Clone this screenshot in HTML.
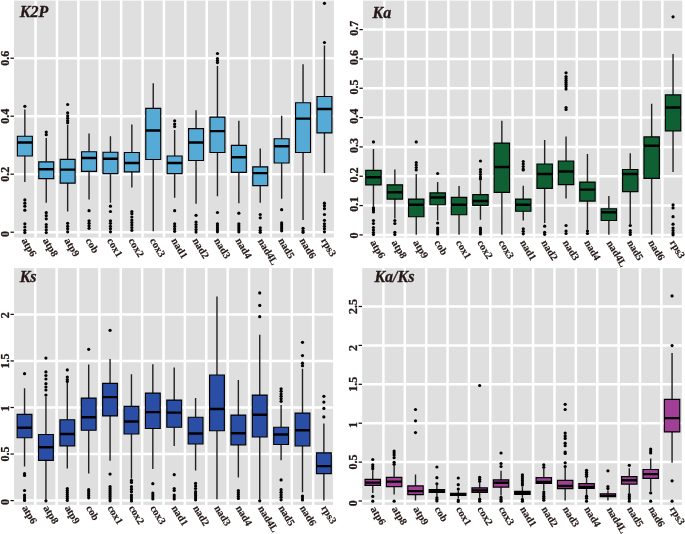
<!DOCTYPE html>
<html><head><meta charset="utf-8"><title>Boxplots</title>
<style>
html,body{margin:0;padding:0;background:#fff;}
body{width:685px;height:534px;overflow:hidden;font-family:"Liberation Serif",serif;}
svg{display:block;will-change:transform;}
text{font-family:"Liberation Serif",serif;font-weight:bold;fill:#231815;stroke:#231815;stroke-width:0.3px;}
.yl{font-size:12px;}
.xl{font-size:10.4px;stroke-width:0.15px;}
.tt{font-size:16px;font-style:italic;}
</style></head><body>
<svg width="685" height="534" viewBox="0 0 685 534">
<rect width="685" height="534" fill="#fff"/>
<g>
<rect x="14.10" y="0.60" width="319.80" height="237.00" fill="#dfdfdf"/>
<path d="M35.55 0.60V237.60M56.95 0.60V237.60M78.35 0.60V237.60M99.75 0.60V237.60M121.15 0.60V237.60M142.55 0.60V237.60M163.95 0.60V237.60M185.35 0.60V237.60M206.75 0.60V237.60M228.15 0.60V237.60M249.55 0.60V237.60M270.95 0.60V237.60M292.35 0.60V237.60M313.75 0.60V237.60M14.10 232.20H333.90M14.10 174.20H333.90M14.10 116.20H333.90M14.10 58.20H333.90" stroke="#fff" stroke-width="2.50" fill="none"/>
<path d="M10.50 232.20H13.90" stroke="#111" stroke-width="1.25"/>
<text class="yl" transform="translate(9.10 234.10) rotate(-90)" text-anchor="middle">0</text>
<path d="M10.50 174.20H13.90" stroke="#111" stroke-width="1.25"/>
<text class="yl" transform="translate(9.10 174.20) rotate(-90)" text-anchor="middle">0.2</text>
<path d="M10.50 116.20H13.90" stroke="#111" stroke-width="1.25"/>
<text class="yl" transform="translate(9.10 116.20) rotate(-90)" text-anchor="middle">0.4</text>
<path d="M10.50 58.20H13.90" stroke="#111" stroke-width="1.25"/>
<text class="yl" transform="translate(9.10 58.20) rotate(-90)" text-anchor="middle">0.6</text>
<g fill="#000"><circle cx="24.85" cy="106.30" r="1.6"/><circle cx="24.85" cy="199.90" r="1.6"/><circle cx="24.85" cy="203.20" r="1.6"/><circle cx="24.85" cy="206.20" r="1.6"/><circle cx="24.85" cy="210.20" r="1.6"/><circle cx="24.85" cy="223.80" r="1.6"/><circle cx="24.85" cy="227.00" r="1.6"/><circle cx="24.85" cy="230.30" r="1.6"/><circle cx="24.85" cy="232.60" r="1.6"/><circle cx="46.25" cy="132.10" r="1.6"/><circle cx="46.25" cy="134.70" r="1.6"/><circle cx="46.25" cy="212.70" r="1.6"/><circle cx="46.25" cy="215.70" r="1.6"/><circle cx="46.25" cy="218.80" r="1.6"/><circle cx="46.25" cy="224.50" r="1.6"/><circle cx="46.25" cy="227.00" r="1.6"/><circle cx="46.25" cy="229.80" r="1.6"/><circle cx="46.25" cy="232.60" r="1.6"/><circle cx="67.65" cy="104.50" r="1.6"/><circle cx="67.65" cy="112.80" r="1.6"/><circle cx="67.65" cy="115.80" r="1.6"/><circle cx="67.65" cy="118.30" r="1.6"/><circle cx="67.65" cy="120.80" r="1.6"/><circle cx="67.65" cy="122.80" r="1.6"/><circle cx="67.65" cy="223.30" r="1.6"/><circle cx="67.65" cy="226.30" r="1.6"/><circle cx="67.65" cy="228.80" r="1.6"/><circle cx="67.65" cy="231.80" r="1.6"/><circle cx="89.05" cy="210.70" r="1.6"/><circle cx="89.05" cy="220.80" r="1.6"/><circle cx="89.05" cy="223.30" r="1.6"/><circle cx="89.05" cy="225.80" r="1.6"/><circle cx="89.05" cy="228.30" r="1.6"/><circle cx="110.45" cy="206.20" r="1.6"/><circle cx="110.45" cy="211.50" r="1.6"/><circle cx="110.45" cy="220.80" r="1.6"/><circle cx="110.45" cy="223.30" r="1.6"/><circle cx="110.45" cy="226.30" r="1.6"/><circle cx="110.45" cy="228.80" r="1.6"/><circle cx="110.45" cy="231.80" r="1.6"/><circle cx="131.85" cy="211.50" r="1.6"/><circle cx="131.85" cy="213.70" r="1.6"/><circle cx="131.85" cy="217.00" r="1.6"/><circle cx="131.85" cy="220.00" r="1.6"/><circle cx="131.85" cy="222.50" r="1.6"/><circle cx="131.85" cy="225.00" r="1.6"/><circle cx="131.85" cy="227.50" r="1.6"/><circle cx="131.85" cy="230.30" r="1.6"/><circle cx="174.65" cy="120.80" r="1.6"/><circle cx="174.65" cy="124.10" r="1.6"/><circle cx="174.65" cy="126.60" r="1.6"/><circle cx="174.65" cy="210.70" r="1.6"/><circle cx="174.65" cy="223.80" r="1.6"/><circle cx="174.65" cy="226.30" r="1.6"/><circle cx="174.65" cy="228.80" r="1.6"/><circle cx="174.65" cy="231.30" r="1.6"/><circle cx="196.05" cy="215.30" r="1.6"/><circle cx="196.05" cy="222.00" r="1.6"/><circle cx="196.05" cy="224.50" r="1.6"/><circle cx="196.05" cy="227.00" r="1.6"/><circle cx="196.05" cy="229.60" r="1.6"/><circle cx="196.05" cy="232.10" r="1.6"/><circle cx="217.45" cy="53.50" r="1.6"/><circle cx="217.45" cy="58.50" r="1.6"/><circle cx="217.45" cy="60.60" r="1.6"/><circle cx="217.45" cy="62.60" r="1.6"/><circle cx="217.45" cy="212.50" r="1.6"/><circle cx="217.45" cy="223.80" r="1.6"/><circle cx="217.45" cy="225.80" r="1.6"/><circle cx="217.45" cy="227.80" r="1.6"/><circle cx="217.45" cy="229.80" r="1.6"/><circle cx="217.45" cy="231.80" r="1.6"/><circle cx="238.85" cy="213.20" r="1.6"/><circle cx="238.85" cy="223.80" r="1.6"/><circle cx="238.85" cy="225.80" r="1.6"/><circle cx="238.85" cy="227.80" r="1.6"/><circle cx="238.85" cy="229.80" r="1.6"/><circle cx="238.85" cy="231.80" r="1.6"/><circle cx="260.25" cy="214.50" r="1.6"/><circle cx="260.25" cy="217.80" r="1.6"/><circle cx="260.25" cy="227.80" r="1.6"/><circle cx="260.25" cy="230.30" r="1.6"/><circle cx="260.25" cy="232.30" r="1.6"/><circle cx="281.65" cy="209.70" r="1.6"/><circle cx="281.65" cy="222.80" r="1.6"/><circle cx="281.65" cy="224.80" r="1.6"/><circle cx="281.65" cy="226.80" r="1.6"/><circle cx="281.65" cy="228.80" r="1.6"/><circle cx="281.65" cy="230.80" r="1.6"/><circle cx="303.05" cy="228.30" r="1.6"/><circle cx="303.05" cy="230.80" r="1.6"/><circle cx="303.05" cy="232.30" r="1.6"/><circle cx="324.45" cy="3.30" r="1.6"/><circle cx="324.45" cy="42.50" r="1.6"/><circle cx="324.45" cy="203.20" r="1.6"/><circle cx="324.45" cy="205.70" r="1.6"/><circle cx="324.45" cy="208.70" r="1.6"/><circle cx="324.45" cy="214.50" r="1.6"/><circle cx="324.45" cy="220.30" r="1.6"/><circle cx="324.45" cy="223.80" r="1.6"/><circle cx="324.45" cy="226.30" r="1.6"/><circle cx="324.45" cy="228.80" r="1.6"/><circle cx="324.45" cy="231.80" r="1.6"/></g>
<path d="M24.85 109.50V136.20M24.85 156.00V181.90M46.25 138.10V161.80M46.25 178.60V202.70M67.65 124.90V159.30M67.65 183.10V211.50M89.05 133.40V151.70M89.05 171.30V199.40M110.45 136.20V152.20M110.45 173.60V202.70M131.85 124.60V152.50M131.85 171.80V187.60M153.25 83.20V108.30M153.25 159.50V231.30M174.65 129.90V156.00M174.65 173.60V197.70M196.05 110.30V128.60M196.05 160.50V203.70M217.45 66.10V117.10M217.45 152.50V196.20M238.85 120.80V145.40M238.85 172.30V203.20M260.25 148.50V166.80M260.25 185.60V202.70M281.65 115.80V138.70M281.65 163.00V198.70M303.05 64.30V102.70M303.05 152.50V220.00M324.45 45.50V96.50M324.45 132.90V173.10" stroke="#222" stroke-width="1.4" fill="none"/>
<path d="M17.38 136.20H32.33V156.00H17.38ZM38.77 161.80H53.73V178.60H38.77ZM60.18 159.30H75.12V183.10H60.18ZM81.57 151.70H96.52V171.30H81.57ZM102.97 152.20H117.92V173.60H102.97ZM124.38 152.50H139.32V171.80H124.38ZM145.77 108.30H160.72V159.50H145.77ZM167.17 156.00H182.12V173.60H167.17ZM188.57 128.60H203.52V160.50H188.57ZM209.97 117.10H224.92V152.50H209.97ZM231.38 145.40H246.32V172.30H231.38ZM252.78 166.80H267.73V185.60H252.78ZM274.17 138.70H289.12V163.00H274.17ZM295.57 102.70H310.53V152.50H295.57ZM316.97 96.50H331.93V132.90H316.97Z" stroke="#000" stroke-width="1.15" fill="#56aad6"/>
<path d="M17.38 142.40H32.33M38.77 169.30H53.73M60.18 169.60H75.12M81.57 158.00H96.52M102.97 158.80H117.92M124.38 163.00H139.32M145.77 130.40H160.72M167.17 163.00H182.12M188.57 142.40H203.52M209.97 131.10H224.92M231.38 157.20H246.32M252.78 173.10H267.73M274.17 146.20H289.12M295.57 118.60H310.53M316.97 109.00H331.93" stroke="#000" stroke-width="2.45" fill="none"/>
<text class="xl" transform="translate(21.15 240.60) rotate(59)">atp6</text>
<text class="xl" transform="translate(42.55 240.60) rotate(59)">atp8</text>
<text class="xl" transform="translate(63.95 240.60) rotate(59)">atp9</text>
<text class="xl" transform="translate(85.35 240.60) rotate(59)">cob</text>
<text class="xl" transform="translate(106.75 240.60) rotate(59)">cox1</text>
<text class="xl" transform="translate(128.15 240.60) rotate(59)">cox2</text>
<text class="xl" transform="translate(149.55 240.60) rotate(59)">cox3</text>
<text class="xl" transform="translate(170.95 240.60) rotate(59)">nad1</text>
<text class="xl" transform="translate(192.35 240.60) rotate(59)">nad2</text>
<text class="xl" transform="translate(213.75 240.60) rotate(59)">nad3</text>
<text class="xl" transform="translate(235.15 240.60) rotate(59)">nad4</text>
<text class="xl" transform="translate(257.55 241.00) rotate(59)">nad4L</text>
<text class="xl" transform="translate(277.95 240.60) rotate(59)">nad5</text>
<text class="xl" transform="translate(299.35 240.60) rotate(59)">nad6</text>
<text class="xl" transform="translate(320.75 240.60) rotate(59)">rps3</text>
<text class="tt" x="19.80" y="17.30">K2P</text>
</g>
<g>
<rect x="363.05" y="0.60" width="319.25" height="237.00" fill="#dfdfdf"/>
<path d="M384.15 0.60V237.60M405.55 0.60V237.60M426.95 0.60V237.60M448.35 0.60V237.60M469.75 0.60V237.60M491.15 0.60V237.60M512.55 0.60V237.60M533.95 0.60V237.60M555.35 0.60V237.60M576.75 0.60V237.60M598.15 0.60V237.60M619.55 0.60V237.60M640.95 0.60V237.60M662.35 0.60V237.60M363.05 234.90H682.30M363.05 205.57H682.30M363.05 176.24H682.30M363.05 146.91H682.30M363.05 117.58H682.30M363.05 88.25H682.30M363.05 58.92H682.30M363.05 29.59H682.30" stroke="#fff" stroke-width="2.50" fill="none"/>
<path d="M359.45 234.90H362.85" stroke="#111" stroke-width="1.25"/>
<text class="yl" transform="translate(358.05 235.60) rotate(-90)" text-anchor="middle">0</text>
<path d="M359.45 205.57H362.85" stroke="#111" stroke-width="1.25"/>
<text class="yl" transform="translate(358.05 204.27) rotate(-90)" text-anchor="middle">0.1</text>
<path d="M359.45 176.24H362.85" stroke="#111" stroke-width="1.25"/>
<text class="yl" transform="translate(358.05 174.94) rotate(-90)" text-anchor="middle">0.2</text>
<path d="M359.45 146.91H362.85" stroke="#111" stroke-width="1.25"/>
<text class="yl" transform="translate(358.05 145.61) rotate(-90)" text-anchor="middle">0.3</text>
<path d="M359.45 117.58H362.85" stroke="#111" stroke-width="1.25"/>
<text class="yl" transform="translate(358.05 116.28) rotate(-90)" text-anchor="middle">0.4</text>
<path d="M359.45 88.25H362.85" stroke="#111" stroke-width="1.25"/>
<text class="yl" transform="translate(358.05 86.95) rotate(-90)" text-anchor="middle">0.5</text>
<path d="M359.45 58.92H362.85" stroke="#111" stroke-width="1.25"/>
<text class="yl" transform="translate(358.05 57.62) rotate(-90)" text-anchor="middle">0.6</text>
<path d="M359.45 29.59H362.85" stroke="#111" stroke-width="1.25"/>
<text class="yl" transform="translate(358.05 28.29) rotate(-90)" text-anchor="middle">0.7</text>
<g fill="#000"><circle cx="373.45" cy="141.90" r="1.6"/><circle cx="373.45" cy="207.90" r="1.6"/><circle cx="373.45" cy="209.90" r="1.6"/><circle cx="373.45" cy="211.90" r="1.6"/><circle cx="373.45" cy="220.50" r="1.6"/><circle cx="373.45" cy="223.50" r="1.6"/><circle cx="373.45" cy="227.50" r="1.6"/><circle cx="373.45" cy="230.00" r="1.6"/><circle cx="373.45" cy="232.50" r="1.6"/><circle cx="373.45" cy="234.50" r="1.6"/><circle cx="394.85" cy="220.50" r="1.6"/><circle cx="394.85" cy="223.50" r="1.6"/><circle cx="394.85" cy="232.30" r="1.6"/><circle cx="394.85" cy="234.50" r="1.6"/><circle cx="416.25" cy="141.90" r="1.6"/><circle cx="416.25" cy="162.50" r="1.6"/><circle cx="416.25" cy="165.00" r="1.6"/><circle cx="416.25" cy="167.50" r="1.6"/><circle cx="416.25" cy="170.00" r="1.6"/><circle cx="437.65" cy="173.50" r="1.6"/><circle cx="437.65" cy="223.00" r="1.6"/><circle cx="437.65" cy="228.00" r="1.6"/><circle cx="437.65" cy="230.00" r="1.6"/><circle cx="437.65" cy="232.00" r="1.6"/><circle cx="437.65" cy="234.00" r="1.6"/><circle cx="480.45" cy="161.00" r="1.6"/><circle cx="480.45" cy="169.50" r="1.6"/><circle cx="480.45" cy="172.00" r="1.6"/><circle cx="480.45" cy="174.50" r="1.6"/><circle cx="480.45" cy="177.00" r="1.6"/><circle cx="480.45" cy="179.00" r="1.6"/><circle cx="480.45" cy="228.00" r="1.6"/><circle cx="480.45" cy="230.00" r="1.6"/><circle cx="480.45" cy="232.00" r="1.6"/><circle cx="480.45" cy="234.00" r="1.6"/><circle cx="523.25" cy="161.50" r="1.6"/><circle cx="523.25" cy="164.00" r="1.6"/><circle cx="523.25" cy="166.50" r="1.6"/><circle cx="523.25" cy="169.00" r="1.6"/><circle cx="523.25" cy="170.00" r="1.6"/><circle cx="523.25" cy="228.80" r="1.6"/><circle cx="523.25" cy="231.30" r="1.6"/><circle cx="523.25" cy="233.80" r="1.6"/><circle cx="544.65" cy="226.20" r="1.6"/><circle cx="544.65" cy="232.30" r="1.6"/><circle cx="544.65" cy="234.30" r="1.6"/><circle cx="566.05" cy="72.80" r="1.6"/><circle cx="566.05" cy="76.60" r="1.6"/><circle cx="566.05" cy="78.60" r="1.6"/><circle cx="566.05" cy="80.60" r="1.6"/><circle cx="566.05" cy="82.60" r="1.6"/><circle cx="566.05" cy="84.60" r="1.6"/><circle cx="566.05" cy="86.60" r="1.6"/><circle cx="566.05" cy="89.10" r="1.6"/><circle cx="566.05" cy="107.50" r="1.6"/><circle cx="566.05" cy="109.50" r="1.6"/><circle cx="566.05" cy="225.50" r="1.6"/><circle cx="566.05" cy="231.00" r="1.6"/><circle cx="566.05" cy="233.50" r="1.6"/><circle cx="587.45" cy="231.00" r="1.6"/><circle cx="587.45" cy="233.50" r="1.6"/><circle cx="630.25" cy="225.50" r="1.6"/><circle cx="630.25" cy="230.50" r="1.6"/><circle cx="630.25" cy="232.50" r="1.6"/><circle cx="630.25" cy="234.50" r="1.6"/><circle cx="673.05" cy="16.80" r="1.6"/><circle cx="673.05" cy="204.90" r="1.6"/><circle cx="673.05" cy="207.90" r="1.6"/><circle cx="673.05" cy="216.70" r="1.6"/><circle cx="673.05" cy="224.20" r="1.6"/><circle cx="673.05" cy="228.00" r="1.6"/><circle cx="673.05" cy="230.50" r="1.6"/><circle cx="673.05" cy="233.00" r="1.6"/><circle cx="673.05" cy="234.80" r="1.6"/></g>
<path d="M373.45 148.90V170.30M373.45 184.80V206.70M394.85 169.50V184.80M394.85 199.10V218.50M416.25 174.00V199.10M416.25 216.70V234.80M437.65 182.10V192.90M437.65 204.70V220.50M459.05 186.10V197.40M459.05 214.70V234.80M480.45 180.30V194.60M480.45 205.40V219.70M501.85 120.80V143.10M501.85 192.30V234.80M523.25 185.80V199.10M523.25 211.20V220.50M544.65 140.10V164.00M544.65 188.30V223.00M566.05 136.40V161.00M566.05 184.60V198.40M587.45 153.90V182.10M587.45 201.10V229.80M608.85 196.10V208.70M608.85 220.50V234.80M630.25 153.20V169.50M630.25 191.60V224.20M651.65 103.70V136.90M651.65 178.30V234.80M673.05 54.00V94.90M673.05 130.80V172.00" stroke="#222" stroke-width="1.4" fill="none"/>
<path d="M365.75 170.30H381.15V184.80H365.75ZM387.15 184.80H402.55V199.10H387.15ZM408.55 199.10H423.95V216.70H408.55ZM429.95 192.90H445.35V204.70H429.95ZM451.35 197.40H466.75V214.70H451.35ZM472.75 194.60H488.15V205.40H472.75ZM494.15 143.10H509.55V192.30H494.15ZM515.55 199.10H530.95V211.20H515.55ZM536.95 164.00H552.35V188.30H536.95ZM558.35 161.00H573.75V184.60H558.35ZM579.75 182.10H595.15V201.10H579.75ZM601.15 208.70H616.55V220.50H601.15ZM622.55 169.50H637.95V191.60H622.55ZM643.95 136.90H659.35V178.30H643.95ZM665.35 94.90H680.75V130.80H665.35Z" stroke="#000" stroke-width="1.15" fill="#0f6134"/>
<path d="M365.75 177.30H381.15M387.15 192.30H402.55M408.55 204.70H423.95M429.95 197.40H445.35M451.35 204.70H466.75M472.75 200.90H488.15M494.15 167.00H509.55M515.55 204.70H530.95M536.95 174.00H552.35M558.35 171.50H573.75M579.75 189.60H595.15M601.15 212.20H616.55M622.55 174.00H637.95M643.95 145.70H659.35M665.35 107.50H680.75" stroke="#000" stroke-width="2.45" fill="none"/>
<text class="xl" transform="translate(369.90 242.50) rotate(59)">atp6</text>
<text class="xl" transform="translate(391.30 242.50) rotate(59)">atp8</text>
<text class="xl" transform="translate(412.70 242.50) rotate(59)">atp9</text>
<text class="xl" transform="translate(434.10 242.50) rotate(59)">cob</text>
<text class="xl" transform="translate(455.50 242.50) rotate(59)">cox1</text>
<text class="xl" transform="translate(476.90 242.50) rotate(59)">cox2</text>
<text class="xl" transform="translate(498.30 242.50) rotate(59)">cox3</text>
<text class="xl" transform="translate(519.70 242.50) rotate(59)">nad1</text>
<text class="xl" transform="translate(541.10 242.50) rotate(59)">nad2</text>
<text class="xl" transform="translate(562.50 242.50) rotate(59)">nad3</text>
<text class="xl" transform="translate(583.90 242.50) rotate(59)">nad4</text>
<text class="xl" transform="translate(606.30 242.90) rotate(59)">nad4L</text>
<text class="xl" transform="translate(626.70 242.50) rotate(59)">nad5</text>
<text class="xl" transform="translate(648.10 242.50) rotate(59)">nad6</text>
<text class="xl" transform="translate(669.50 242.50) rotate(59)">rps3</text>
<text class="tt" x="372.50" y="17.60">Ka</text>
</g>
<g>
<rect x="14.10" y="268.10" width="319.00" height="236.80" fill="#dfdfdf"/>
<path d="M35.24 268.10V504.90M56.62 268.10V504.90M78.00 268.10V504.90M99.38 268.10V504.90M120.76 268.10V504.90M142.14 268.10V504.90M163.52 268.10V504.90M184.90 268.10V504.90M206.28 268.10V504.90M227.66 268.10V504.90M249.04 268.10V504.90M270.42 268.10V504.90M291.80 268.10V504.90M313.18 268.10V504.90M14.10 500.60H333.10M14.10 454.05H333.10M14.10 407.50H333.10M14.10 360.95H333.10M14.10 314.40H333.10" stroke="#fff" stroke-width="2.50" fill="none"/>
<path d="M10.50 500.60H13.90" stroke="#111" stroke-width="1.25"/>
<text class="yl" transform="translate(9.10 502.10) rotate(-90)" text-anchor="middle">0</text>
<path d="M10.50 454.05H13.90" stroke="#111" stroke-width="1.25"/>
<text class="yl" transform="translate(9.10 454.05) rotate(-90)" text-anchor="middle">0.5</text>
<path d="M10.50 407.50H13.90" stroke="#111" stroke-width="1.25"/>
<text class="yl" transform="translate(9.10 408.50) rotate(-90)" text-anchor="middle">1</text>
<path d="M10.50 360.95H13.90" stroke="#111" stroke-width="1.25"/>
<text class="yl" transform="translate(9.10 360.95) rotate(-90)" text-anchor="middle">1.5</text>
<path d="M10.50 314.40H13.90" stroke="#111" stroke-width="1.25"/>
<text class="yl" transform="translate(9.10 315.30) rotate(-90)" text-anchor="middle">2</text>
<g fill="#000"><circle cx="24.55" cy="373.70" r="1.6"/><circle cx="24.55" cy="473.60" r="1.6"/><circle cx="24.55" cy="475.40" r="1.6"/><circle cx="24.55" cy="490.50" r="1.6"/><circle cx="24.55" cy="495.00" r="1.6"/><circle cx="24.55" cy="497.00" r="1.6"/><circle cx="24.55" cy="499.00" r="1.6"/><circle cx="24.55" cy="500.50" r="1.6"/><circle cx="45.93" cy="358.10" r="1.6"/><circle cx="45.93" cy="371.90" r="1.6"/><circle cx="45.93" cy="375.50" r="1.6"/><circle cx="45.93" cy="379.00" r="1.6"/><circle cx="45.93" cy="383.70" r="1.6"/><circle cx="45.93" cy="387.00" r="1.6"/><circle cx="45.93" cy="390.00" r="1.6"/><circle cx="45.93" cy="395.10" r="1.6"/><circle cx="45.93" cy="500.80" r="1.6"/><circle cx="67.31" cy="369.90" r="1.6"/><circle cx="67.31" cy="377.00" r="1.6"/><circle cx="67.31" cy="379.50" r="1.6"/><circle cx="67.31" cy="381.50" r="1.6"/><circle cx="67.31" cy="488.50" r="1.6"/><circle cx="67.31" cy="490.50" r="1.6"/><circle cx="67.31" cy="492.50" r="1.6"/><circle cx="67.31" cy="494.50" r="1.6"/><circle cx="67.31" cy="496.50" r="1.6"/><circle cx="67.31" cy="498.50" r="1.6"/><circle cx="67.31" cy="500.50" r="1.6"/><circle cx="88.69" cy="349.30" r="1.6"/><circle cx="88.69" cy="489.70" r="1.6"/><circle cx="88.69" cy="491.70" r="1.6"/><circle cx="88.69" cy="493.70" r="1.6"/><circle cx="88.69" cy="495.70" r="1.6"/><circle cx="88.69" cy="497.80" r="1.6"/><circle cx="110.07" cy="330.30" r="1.6"/><circle cx="110.07" cy="474.10" r="1.6"/><circle cx="110.07" cy="486.70" r="1.6"/><circle cx="110.07" cy="488.70" r="1.6"/><circle cx="110.07" cy="490.70" r="1.6"/><circle cx="110.07" cy="492.70" r="1.6"/><circle cx="110.07" cy="494.70" r="1.6"/><circle cx="110.07" cy="496.70" r="1.6"/><circle cx="110.07" cy="498.80" r="1.6"/><circle cx="110.07" cy="500.80" r="1.6"/><circle cx="131.45" cy="480.40" r="1.6"/><circle cx="131.45" cy="482.40" r="1.6"/><circle cx="131.45" cy="486.70" r="1.6"/><circle cx="131.45" cy="489.20" r="1.6"/><circle cx="131.45" cy="491.70" r="1.6"/><circle cx="131.45" cy="495.00" r="1.6"/><circle cx="131.45" cy="497.00" r="1.6"/><circle cx="131.45" cy="499.00" r="1.6"/><circle cx="131.45" cy="501.00" r="1.6"/><circle cx="152.83" cy="483.70" r="1.6"/><circle cx="152.83" cy="493.00" r="1.6"/><circle cx="152.83" cy="495.00" r="1.6"/><circle cx="152.83" cy="497.00" r="1.6"/><circle cx="152.83" cy="499.00" r="1.6"/><circle cx="174.21" cy="474.70" r="1.6"/><circle cx="174.21" cy="488.50" r="1.6"/><circle cx="174.21" cy="490.50" r="1.6"/><circle cx="174.21" cy="495.00" r="1.6"/><circle cx="174.21" cy="497.00" r="1.6"/><circle cx="174.21" cy="499.00" r="1.6"/><circle cx="195.59" cy="483.40" r="1.6"/><circle cx="195.59" cy="486.00" r="1.6"/><circle cx="195.59" cy="488.50" r="1.6"/><circle cx="195.59" cy="491.70" r="1.6"/><circle cx="195.59" cy="493.70" r="1.6"/><circle cx="195.59" cy="495.70" r="1.6"/><circle cx="195.59" cy="497.80" r="1.6"/><circle cx="195.59" cy="499.80" r="1.6"/><circle cx="238.35" cy="490.50" r="1.6"/><circle cx="238.35" cy="492.50" r="1.6"/><circle cx="238.35" cy="494.50" r="1.6"/><circle cx="238.35" cy="496.50" r="1.6"/><circle cx="238.35" cy="498.50" r="1.6"/><circle cx="259.73" cy="292.90" r="1.6"/><circle cx="259.73" cy="305.40" r="1.6"/><circle cx="259.73" cy="316.70" r="1.6"/><circle cx="259.73" cy="500.80" r="1.6"/><circle cx="281.11" cy="388.80" r="1.6"/><circle cx="281.11" cy="391.30" r="1.6"/><circle cx="281.11" cy="394.00" r="1.6"/><circle cx="281.11" cy="396.30" r="1.6"/><circle cx="281.11" cy="398.80" r="1.6"/><circle cx="281.11" cy="401.30" r="1.6"/><circle cx="281.11" cy="479.90" r="1.6"/><circle cx="281.11" cy="489.70" r="1.6"/><circle cx="281.11" cy="492.20" r="1.6"/><circle cx="281.11" cy="494.70" r="1.6"/><circle cx="281.11" cy="497.20" r="1.6"/><circle cx="281.11" cy="499.80" r="1.6"/><circle cx="302.49" cy="342.30" r="1.6"/><circle cx="302.49" cy="355.60" r="1.6"/><circle cx="302.49" cy="363.20" r="1.6"/><circle cx="302.49" cy="365.70" r="1.6"/><circle cx="302.49" cy="496.00" r="1.6"/><circle cx="302.49" cy="498.00" r="1.6"/><circle cx="302.49" cy="500.00" r="1.6"/><circle cx="323.87" cy="396.30" r="1.6"/><circle cx="323.87" cy="402.10" r="1.6"/><circle cx="323.87" cy="408.40" r="1.6"/><circle cx="323.87" cy="416.90" r="1.6"/></g>
<path d="M24.55 388.30V414.40M24.55 437.70V466.60M45.93 397.10V434.50M45.93 460.30V500.00M67.31 383.00V419.70M67.31 445.80V468.60M88.69 364.40V398.10M88.69 430.20V473.40M110.07 359.10V383.30M110.07 415.90V460.80M131.45 374.20V406.40M131.45 434.00V478.40M152.83 364.20V393.10M152.83 428.50V469.10M174.21 367.40V400.10M174.21 427.20V446.00M195.59 398.10V417.20M195.59 444.00V470.40M216.97 296.60V375.00M216.97 430.70V499.30M238.35 380.00V415.10M238.35 444.80V477.40M259.73 334.80V395.10M259.73 437.00V500.00M281.11 405.10V427.20M281.11 444.50V460.30M302.49 368.70V413.10M302.49 446.00V492.20M323.87 423.40V452.80M323.87 473.60V500.50" stroke="#222" stroke-width="1.4" fill="none"/>
<path d="M17.15 414.40H31.95V437.70H17.15ZM38.53 434.50H53.33V460.30H38.53ZM59.91 419.70H74.71V445.80H59.91ZM81.29 398.10H96.09V430.20H81.29ZM102.67 383.30H117.47V415.90H102.67ZM124.05 406.40H138.85V434.00H124.05ZM145.43 393.10H160.23V428.50H145.43ZM166.81 400.10H181.61V427.20H166.81ZM188.19 417.20H202.99V444.00H188.19ZM209.57 375.00H224.37V430.70H209.57ZM230.95 415.10H245.75V444.80H230.95ZM252.33 395.10H267.13V437.00H252.33ZM273.71 427.20H288.51V444.50H273.71ZM295.09 413.10H309.89V446.00H295.09ZM316.47 452.80H331.27V473.60H316.47Z" stroke="#000" stroke-width="1.15" fill="#2a4ea5"/>
<path d="M17.15 427.70H31.95M38.53 447.30H53.33M59.91 434.00H74.71M81.29 417.20H96.09M102.67 397.10H117.47M124.05 421.40H138.85M145.43 412.10H160.23M166.81 412.60H181.61M188.19 433.50H202.99M209.57 408.90H224.37M230.95 433.30H245.75M252.33 414.70H267.13M273.71 434.50H288.51M295.09 430.20H309.89M316.47 466.10H331.27" stroke="#000" stroke-width="2.45" fill="none"/>
<text class="xl" transform="translate(21.65 507.90) rotate(59)">atp6</text>
<text class="xl" transform="translate(43.03 507.90) rotate(59)">atp8</text>
<text class="xl" transform="translate(64.41 507.90) rotate(59)">atp9</text>
<text class="xl" transform="translate(85.79 507.90) rotate(59)">cob</text>
<text class="xl" transform="translate(107.17 507.90) rotate(59)">cox1</text>
<text class="xl" transform="translate(128.55 507.90) rotate(59)">cox2</text>
<text class="xl" transform="translate(149.93 507.90) rotate(59)">cox3</text>
<text class="xl" transform="translate(171.31 507.90) rotate(59)">nad1</text>
<text class="xl" transform="translate(192.69 507.90) rotate(59)">nad2</text>
<text class="xl" transform="translate(214.07 507.90) rotate(59)">nad3</text>
<text class="xl" transform="translate(235.45 507.90) rotate(59)">nad4</text>
<text class="xl" transform="translate(257.83 508.30) rotate(59)">nad4L</text>
<text class="xl" transform="translate(278.21 507.90) rotate(59)">nad5</text>
<text class="xl" transform="translate(299.59 507.90) rotate(59)">nad6</text>
<text class="xl" transform="translate(320.97 507.90) rotate(59)">rps3</text>
<text class="tt" x="19.70" y="282.10">Ks</text>
</g>
<g>
<rect x="362.20" y="268.10" width="319.60" height="236.80" fill="#dfdfdf"/>
<path d="M383.44 268.10V504.90M404.82 268.10V504.90M426.20 268.10V504.90M447.58 268.10V504.90M468.96 268.10V504.90M490.34 268.10V504.90M511.72 268.10V504.90M533.10 268.10V504.90M554.48 268.10V504.90M575.86 268.10V504.90M597.24 268.10V504.90M618.62 268.10V504.90M640.00 268.10V504.90M661.38 268.10V504.90M362.20 501.00H681.80M362.20 462.10H681.80M362.20 423.20H681.80M362.20 384.30H681.80M362.20 345.40H681.80M362.20 306.50H681.80" stroke="#fff" stroke-width="2.50" fill="none"/>
<path d="M358.60 501.00H362.00" stroke="#111" stroke-width="1.25"/>
<text class="yl" transform="translate(357.20 503.30) rotate(-90)" text-anchor="middle">0</text>
<path d="M358.60 462.10H362.00" stroke="#111" stroke-width="1.25"/>
<text class="yl" transform="translate(357.20 462.10) rotate(-90)" text-anchor="middle">0.5</text>
<path d="M358.60 423.20H362.00" stroke="#111" stroke-width="1.25"/>
<text class="yl" transform="translate(357.20 425.10) rotate(-90)" text-anchor="middle">1</text>
<path d="M358.60 384.30H362.00" stroke="#111" stroke-width="1.25"/>
<text class="yl" transform="translate(357.20 384.30) rotate(-90)" text-anchor="middle">1.5</text>
<path d="M358.60 345.40H362.00" stroke="#111" stroke-width="1.25"/>
<text class="yl" transform="translate(357.20 347.90) rotate(-90)" text-anchor="middle">2</text>
<path d="M358.60 306.50H362.00" stroke="#111" stroke-width="1.25"/>
<text class="yl" transform="translate(357.20 306.50) rotate(-90)" text-anchor="middle">2.5</text>
<g fill="#000"><circle cx="372.75" cy="459.50" r="1.6"/><circle cx="372.75" cy="464.80" r="1.6"/><circle cx="372.75" cy="466.80" r="1.6"/><circle cx="372.75" cy="468.80" r="1.6"/><circle cx="372.75" cy="496.40" r="1.6"/><circle cx="372.75" cy="501.20" r="1.6"/><circle cx="394.13" cy="451.00" r="1.6"/><circle cx="394.13" cy="453.00" r="1.6"/><circle cx="394.13" cy="455.00" r="1.6"/><circle cx="394.13" cy="457.70" r="1.6"/><circle cx="394.13" cy="462.30" r="1.6"/><circle cx="394.13" cy="464.30" r="1.6"/><circle cx="394.13" cy="501.20" r="1.6"/><circle cx="415.51" cy="409.50" r="1.6"/><circle cx="415.51" cy="420.80" r="1.6"/><circle cx="415.51" cy="432.60" r="1.6"/><circle cx="436.89" cy="467.00" r="1.6"/><circle cx="436.89" cy="477.70" r="1.6"/><circle cx="436.89" cy="483.80" r="1.6"/><circle cx="436.89" cy="497.80" r="1.6"/><circle cx="436.89" cy="499.50" r="1.6"/><circle cx="436.89" cy="501.00" r="1.6"/><circle cx="458.27" cy="478.00" r="1.6"/><circle cx="458.27" cy="484.70" r="1.6"/><circle cx="458.27" cy="489.10" r="1.6"/><circle cx="458.27" cy="500.00" r="1.6"/><circle cx="458.27" cy="501.50" r="1.6"/><circle cx="479.65" cy="385.50" r="1.6"/><circle cx="479.65" cy="477.30" r="1.6"/><circle cx="479.65" cy="479.30" r="1.6"/><circle cx="479.65" cy="481.30" r="1.6"/><circle cx="479.65" cy="499.20" r="1.6"/><circle cx="479.65" cy="501.20" r="1.6"/><circle cx="501.03" cy="453.00" r="1.6"/><circle cx="501.03" cy="463.50" r="1.6"/><circle cx="501.03" cy="466.50" r="1.6"/><circle cx="501.03" cy="497.40" r="1.6"/><circle cx="501.03" cy="499.40" r="1.6"/><circle cx="501.03" cy="501.20" r="1.6"/><circle cx="522.41" cy="474.80" r="1.6"/><circle cx="522.41" cy="476.80" r="1.6"/><circle cx="522.41" cy="478.80" r="1.6"/><circle cx="522.41" cy="480.80" r="1.6"/><circle cx="522.41" cy="482.90" r="1.6"/><circle cx="522.41" cy="484.90" r="1.6"/><circle cx="522.41" cy="499.40" r="1.6"/><circle cx="522.41" cy="501.20" r="1.6"/><circle cx="543.79" cy="464.80" r="1.6"/><circle cx="543.79" cy="467.30" r="1.6"/><circle cx="543.79" cy="492.10" r="1.6"/><circle cx="543.79" cy="494.10" r="1.6"/><circle cx="543.79" cy="496.20" r="1.6"/><circle cx="543.79" cy="498.20" r="1.6"/><circle cx="543.79" cy="500.20" r="1.6"/><circle cx="565.17" cy="404.30" r="1.6"/><circle cx="565.17" cy="409.50" r="1.6"/><circle cx="565.17" cy="433.10" r="1.6"/><circle cx="565.17" cy="435.90" r="1.6"/><circle cx="565.17" cy="438.40" r="1.6"/><circle cx="565.17" cy="443.20" r="1.6"/><circle cx="565.17" cy="445.70" r="1.6"/><circle cx="565.17" cy="452.00" r="1.6"/><circle cx="565.17" cy="453.50" r="1.6"/><circle cx="565.17" cy="462.80" r="1.6"/><circle cx="565.17" cy="466.50" r="1.6"/><circle cx="586.55" cy="470.30" r="1.6"/><circle cx="586.55" cy="472.30" r="1.6"/><circle cx="586.55" cy="474.30" r="1.6"/><circle cx="586.55" cy="476.30" r="1.6"/><circle cx="586.55" cy="496.20" r="1.6"/><circle cx="586.55" cy="498.20" r="1.6"/><circle cx="586.55" cy="501.20" r="1.6"/><circle cx="607.93" cy="470.80" r="1.6"/><circle cx="607.93" cy="486.60" r="1.6"/><circle cx="607.93" cy="488.60" r="1.6"/><circle cx="629.31" cy="465.30" r="1.6"/><circle cx="629.31" cy="494.70" r="1.6"/><circle cx="629.31" cy="496.70" r="1.6"/><circle cx="629.31" cy="498.70" r="1.6"/><circle cx="629.31" cy="501.20" r="1.6"/><circle cx="650.69" cy="449.00" r="1.6"/><circle cx="650.69" cy="451.00" r="1.6"/><circle cx="650.69" cy="453.00" r="1.6"/><circle cx="650.69" cy="492.90" r="1.6"/><circle cx="650.69" cy="501.20" r="1.6"/><circle cx="672.07" cy="295.90" r="1.6"/><circle cx="672.07" cy="345.60" r="1.6"/><circle cx="672.07" cy="480.80" r="1.6"/><circle cx="672.07" cy="501.20" r="1.6"/></g>
<path d="M372.75 470.30V479.40M372.75 485.40V493.00M394.13 465.80V477.30M394.13 486.60V494.60M415.51 474.60V485.90M415.51 494.60V500.40M436.89 484.10V489.50M436.89 492.30V497.00M458.27 490.40V493.30M458.27 495.30V498.50M479.65 482.90V487.90M479.65 492.50V497.70M501.03 470.80V479.90M501.03 487.10V495.40M522.41 486.60V491.40M522.41 494.30V497.70M543.79 469.00V477.60M543.79 483.30V490.40M565.17 467.80V480.30M565.17 488.60V500.40M586.55 477.30V483.60M586.55 488.50V494.90M607.93 490.40V493.70M607.93 496.60V500.40M629.31 468.30V476.60M629.31 484.10V493.40M650.69 458.50V469.50M650.69 478.30V490.90M672.07 353.10V399.30M672.07 431.90V462.80" stroke="#222" stroke-width="1.4" fill="none"/>
<path d="M365.05 479.40H380.45V485.40H365.05ZM386.43 477.30H401.83V486.60H386.43ZM407.81 485.90H423.21V494.60H407.81ZM429.19 489.50H444.59V492.30H429.19ZM450.57 493.30H465.97V495.30H450.57ZM471.95 487.90H487.35V492.50H471.95ZM493.33 479.90H508.73V487.10H493.33ZM514.71 491.40H530.11V494.30H514.71ZM536.09 477.60H551.49V483.30H536.09ZM557.47 480.30H572.87V488.60H557.47ZM578.85 483.60H594.25V488.50H578.85ZM600.23 493.70H615.63V496.60H600.23ZM621.61 476.60H637.01V484.10H621.61ZM642.99 469.50H658.39V478.30H642.99ZM664.37 399.30H679.77V431.90H664.37Z" stroke="#000" stroke-width="1.15" fill="#a13f97"/>
<path d="M365.05 482.60H380.45M386.43 481.60H401.83M407.81 491.10H423.21M429.19 490.90H444.59M450.57 494.30H465.97M471.95 490.50H487.35M493.33 482.80H508.73M514.71 492.90H530.11M536.09 481.90H551.49M557.47 485.90H572.87M578.85 487.00H594.25M600.23 495.70H615.63M621.61 480.30H637.01M642.99 474.10H658.39M664.37 418.10H679.77" stroke="#000" stroke-width="2.45" fill="none"/>
<text class="xl" transform="translate(370.20 509.00) rotate(59)">atp6</text>
<text class="xl" transform="translate(391.58 509.00) rotate(59)">atp8</text>
<text class="xl" transform="translate(412.96 509.00) rotate(59)">atp9</text>
<text class="xl" transform="translate(434.34 509.00) rotate(59)">cob</text>
<text class="xl" transform="translate(455.72 509.00) rotate(59)">cox1</text>
<text class="xl" transform="translate(477.10 509.00) rotate(59)">cox2</text>
<text class="xl" transform="translate(498.48 509.00) rotate(59)">cox3</text>
<text class="xl" transform="translate(519.86 509.00) rotate(59)">nad1</text>
<text class="xl" transform="translate(541.24 509.00) rotate(59)">nad2</text>
<text class="xl" transform="translate(562.62 509.00) rotate(59)">nad3</text>
<text class="xl" transform="translate(584.00 509.00) rotate(59)">nad4</text>
<text class="xl" transform="translate(606.38 509.40) rotate(59)">nad4L</text>
<text class="xl" transform="translate(626.76 509.00) rotate(59)">nad5</text>
<text class="xl" transform="translate(648.14 509.00) rotate(59)">nad6</text>
<text class="xl" transform="translate(669.52 509.00) rotate(59)">rps3</text>
<text class="tt" x="374.40" y="281.60">Ka/Ks</text>
</g>
</svg>
</body></html>
